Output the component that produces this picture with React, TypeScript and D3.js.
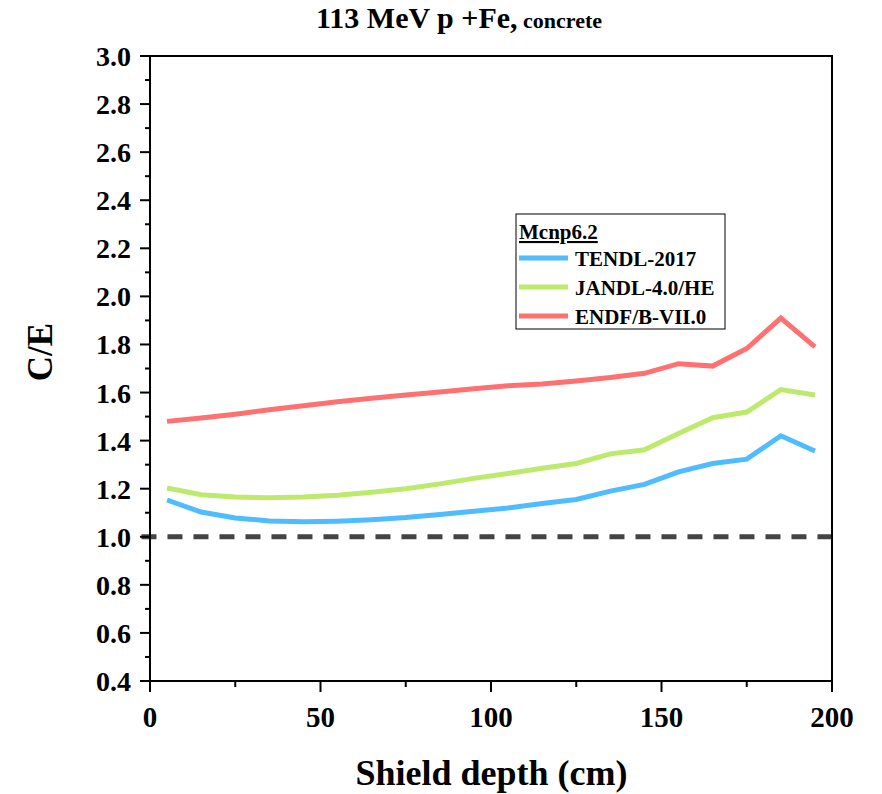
import React from "react";
import * as d3 from "d3";

// Shield depth (cm) at which each C/E ratio is evaluated
const depths = [5, 15, 25, 35, 45, 55, 65, 75, 85, 95, 105, 115, 125, 135, 145, 155, 165, 175, 185, 195];

// C/E ratios per nuclear data library (MCNP6.2)
const tendl2017 = [1.153, 1.103, 1.078, 1.066, 1.062, 1.065, 1.071, 1.08, 1.093, 1.106, 1.12, 1.138, 1.155, 1.19, 1.218, 1.27, 1.305, 1.323, 1.42, 1.357];
const jandl40he = [1.203, 1.175, 1.165, 1.162, 1.165, 1.173, 1.185, 1.2, 1.22, 1.243, 1.263, 1.285, 1.305, 1.345, 1.362, 1.43, 1.495, 1.519, 1.612, 1.59];
const endfb70 = [1.48, 1.494, 1.51, 1.528, 1.545, 1.562, 1.576, 1.59, 1.602, 1.616, 1.628, 1.636, 1.648, 1.663, 1.68, 1.72, 1.71, 1.783, 1.91, 1.79];

const seriesNames = ["TENDL-2017", "JANDL-4.0/HE", "ENDF/B-VII.0"];
const seriesColors = ["#4fbcff", "#bdea6c", "#ff7070"];
const seriesValues = [tendl2017, jandl40he, endfb70];

const xTicks = [0, 50, 100, 150, 200];
const yTicks = [0.4, 0.6, 0.8, 1.0, 1.2, 1.4, 1.6, 1.8, 2.0, 2.2, 2.4, 2.6, 2.8, 3.0];

const W = 882;
const H = 794;
const FONT = "'Liberation Serif', 'Times New Roman', serif";

export default function App() {
  const left = 150;
  const right = 832;
  const top = 56;
  const bottom = 681;

  const x = d3.scaleLinear().domain([0, 200]).range([left, right]);
  const y = d3.scaleLinear().domain([0.4, 3.0]).range([bottom, top]);

  const line = d3
    .line<[number, number]>()
    .x((d) => x(d[0]))
    .y((d) => y(d[1]));

  const xMinor = d3.range(25, 200, 50);
  const yMinor = d3.range(0.5, 3.0, 0.2);

  const legX = 516;
  const legY = 214;

  return (
    <svg
      width={W}
      height={H}
      style={{ position: "absolute", left: 0, top: 0, background: "#fff" }}
      fontFamily={FONT}
    >
      <rect x={0} y={0} width={W} height={H} fill="#fff" />

      {/* title */}
      <text x={316} y={28} fontWeight="bold" fill="#000">
        <tspan fontSize={30}>113 MeV p +Fe,</tspan>
        <tspan fontSize={22}> concrete</tspan>
      </text>

      {/* reference line C/E = 1 */}
      <line
        x1={x(-2.5)}
        x2={right}
        y1={y(1.0)}
        y2={y(1.0)}
        stroke="#444"
        strokeWidth={5}
        strokeDasharray="15 11"
      />

      {/* data series */}
      {seriesValues.map((vals, i) => (
        <path
          key={seriesNames[i]}
          d={line(depths.map((d, j) => [d, vals[j]] as [number, number])) || ""}
          fill="none"
          stroke={seriesColors[i]}
          strokeWidth={5}
          strokeLinejoin="miter"
        />
      ))}

      {/* frame */}
      <rect x={left} y={top} width={right - left} height={bottom - top} fill="none" stroke="#000" strokeWidth={2} />

      {/* y ticks */}
      {yTicks.map((t) => (
        <g key={"y" + t}>
          <line x1={left - 10} x2={left} y1={y(t)} y2={y(t)} stroke="#000" strokeWidth={2} />
          <text
            x={131}
            y={y(t) + 10}
            textAnchor="end"
            fontSize={28}
            fontWeight="bold"
            fill="#000"
          >
            {t.toFixed(1)}
          </text>
        </g>
      ))}
      {yMinor.map((t) => (
        <line key={"ym" + t} x1={left - 5} x2={left} y1={y(t)} y2={y(t)} stroke="#000" strokeWidth={2} />
      ))}

      {/* x ticks */}
      {xTicks.map((t) => (
        <g key={"x" + t}>
          <line x1={x(t)} x2={x(t)} y1={bottom} y2={bottom + 11} stroke="#000" strokeWidth={2} />
          <text x={x(t)} y={bottom + 46} textAnchor="middle" fontSize={29} fontWeight="bold" fill="#000">
            {t}
          </text>
        </g>
      ))}
      {xMinor.map((t) => (
        <line key={"xm" + t} x1={x(t)} x2={x(t)} y1={bottom} y2={bottom + 6} stroke="#000" strokeWidth={2} />
      ))}

      {/* axis titles */}
      <text x={491.5} y={785} textAnchor="middle" fontSize={36} fontWeight="bold" fill="#000">
        Shield depth (cm)
      </text>
      <text
        transform={`translate(52, 352) rotate(-90)`}
        textAnchor="middle"
        fontSize={35}
        fontWeight="bold"
        fill="#000"
      >
        C/E
      </text>

      {/* legend */}
      <rect x={legX} y={legY} width={209} height={115} fill="#fff" stroke="#000" strokeWidth={1} />
      <text x={legX + 3} y={legY + 25} fontSize={21} fontWeight="bold" fill="#000" textDecoration="underline">
        Mcnp6.2
      </text>
      {seriesNames.map((name, i) => (
        <g key={"leg" + name}>
          <line
            x1={legX + 3}
            x2={legX + 52}
            y1={legY + 44 + i * 29}
            y2={legY + 44 + i * 29}
            stroke={seriesColors[i]}
            strokeWidth={5}
          />
          <text x={legX + 59} y={legY + 52 + i * 29} fontSize={21} fontWeight="bold" fill="#000">
            {name}
          </text>
        </g>
      ))}
    </svg>
  );
}
